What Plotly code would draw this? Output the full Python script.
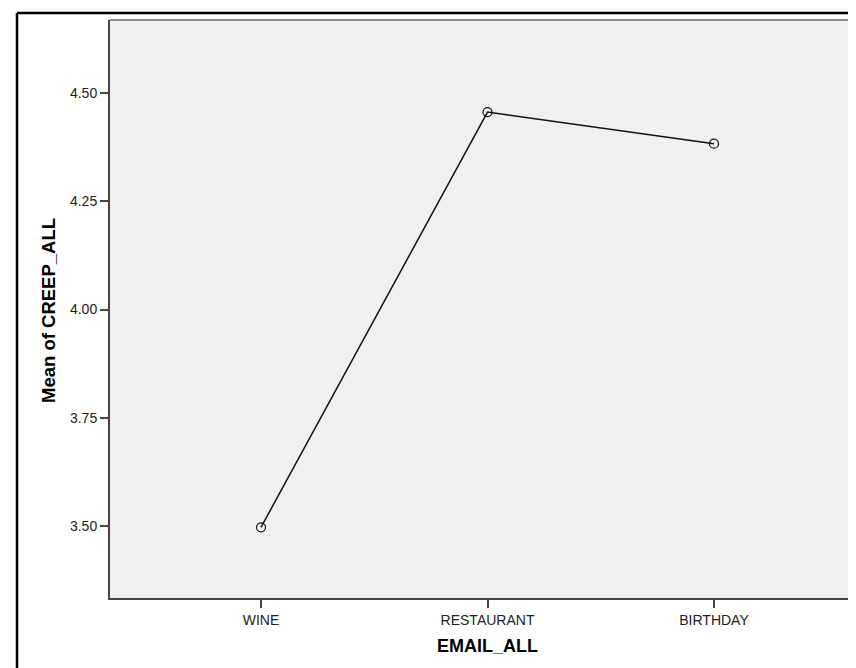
import plotly.graph_objects as go

categories = ["WINE", "RESTAURANT", "BIRTHDAY"]
means = [3.497, 4.456, 4.383]
y_ticks = [3.50, 3.75, 4.00, 4.25, 4.50]
y_tick_labels = ["3.50", "3.75", "4.00", "4.25", "4.50"]
x_title = "EMAIL_ALL"
y_title = "Mean of CREEP_ALL"

W, H = 856, 668
L, T, B, R = 102, 12, 78, 0
pw = W - L - R
ph = H - T - B

fig = go.Figure()
fig.add_trace(go.Scatter(
    x=list(range(len(categories))), y=means, mode="lines+markers",
    line=dict(color="#111111", width=1.5),
    marker=dict(symbol="circle-open", size=9, color="#111111", line=dict(width=1.2)),
    showlegend=False, hoverinfo="skip"))

unit = 226.5
x0 = -(253 - L) / unit
x1 = x0 + pw / unit

# y mapping: 4.50 at 85px, 3.50 at 518px
ppu = 433.0
ytop = 4.5 + (85 - T) / ppu
ybot = 3.5 - (T + ph - 518) / ppu

font = "Liberation Sans, Arial, sans-serif"
fig.update_layout(
    width=W, height=H,
    margin=dict(l=L, r=R, t=T, b=B, pad=0),
    paper_bgcolor="white", plot_bgcolor="#f0f0f0",
    font=dict(family=font, size=14, color="#222222"),
    xaxis=dict(range=[x0, x1], tickvals=list(range(len(categories))), ticktext=categories,
               showgrid=False, zeroline=False, showline=True, linecolor="#444444", linewidth=2,
               ticks="outside", ticklen=8, tickwidth=2, tickcolor="#444444",
               tickfont=dict(size=14, color="#222222")),
    yaxis=dict(range=[ybot, ytop], tickvals=y_ticks, ticktext=y_tick_labels,
               showgrid=False, zeroline=False, showline=True, linecolor="#444444", linewidth=2,
               ticks="outside", ticklen=8, tickwidth=2, tickcolor="#444444",
               tickfont=dict(size=14, color="#222222")),
    shapes=[
        # top edge of plot
        dict(type="line", xref="paper", yref="paper", x0=0, x1=1, y0=1, y1=1,
             line=dict(color="#888888", width=2)),
        # right edge faint
        dict(type="line", xref="paper", yref="paper", x0=1, x1=1, y0=0, y1=1,
             line=dict(color="#d8d8d8", width=1)),
        # outer border top
        dict(type="line", xref="paper", yref="paper",
             x0=(9 - L) / pw, x1=(W + 5 - L) / pw,
             y0=1 + (T - 5) / ph, y1=1 + (T - 5) / ph,
             line=dict(color="#000000", width=2.5)),
        # outer border left
        dict(type="line", xref="paper", yref="paper",
             x0=(9 - L) / pw, x1=(9 - L) / pw,
             y0=1 + (T - 5) / ph, y1=-(H + 5 - T - ph) / ph,
             line=dict(color="#000000", width=2.5)),
    ],
    annotations=[
        dict(text="<b>%s</b>" % x_title, xref="paper", yref="paper",
             x=(479 - L) / pw, y=1 - (638 - T) / ph, showarrow=False,
             xanchor="center", yanchor="middle",
             font=dict(family=font, size=18, color="#000000")),
        dict(text="<b>%s</b>" % y_title, xref="paper", yref="paper",
             x=(40 - L) / pw, y=1 - (303 - T) / ph, showarrow=False, textangle=-90,
             xanchor="center", yanchor="middle",
             font=dict(family=font, size=18.5, color="#000000")),
    ],
)

fig.write_html("out.html")
